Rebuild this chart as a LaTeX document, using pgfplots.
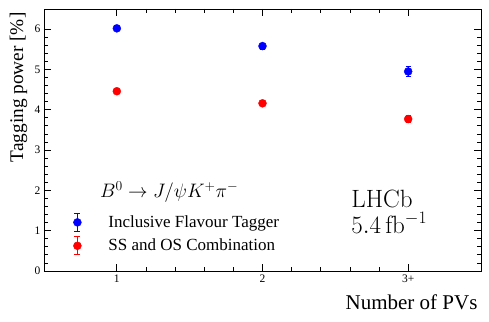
\RequirePackage{fix-cm}
\documentclass[border=0pt]{standalone}
\usepackage[no-math]{fontspec}
\setmainfont{Liberation Serif}
\usepackage{pgfplots}
\pgfplotsset{compat=1.18}

\begin{document}
\begin{tikzpicture}
  \begin{axis}[
      width=437pt, height=262pt, scale only axis,
      xmin=0.5, xmax=3.5, ymin=0, ymax=6.5,
      xtick={1,2,3}, xticklabels={1,2,3+},
      ytick={0,1,2,3,4,5,6},
      minor x tick num=4, minor y tick num=4,
      tick align=inside,
      major tick length=7pt, minor tick length=4pt,
      axis line style={line width=0.8pt},
      every tick/.style={black, line width=0.8pt},
      tick label style={font=\fontsize{11.5}{13}\selectfont},
      /pgf/number format/assume math mode=true,
      xlabel={Number of PVs},
      ylabel={Tagging power [\%]},
      xlabel style={font=\fontsize{21}{24}\selectfont,
        at={(axis description cs:1,-0.076)}, anchor=north east},
      ylabel style={font=\fontsize{19.3}{23}\selectfont,
        at={(axis description cs:-0.03,1)}, anchor=south east},
      legend style={draw=none, fill=none, at={(axis description cs:0.0595,0.231)},
        anchor=north west, font=\fontsize{17}{20}\selectfont,
        row sep=4pt, cells={anchor=west}},
    ]
    \addplot[only marks, color=blue, mark=*, mark size=4pt,
      legend image code/.code={
        \draw[blue, line width=1.4pt] (0pt,-9pt) -- (0pt,9pt)
          (-3pt,-9pt) -- (3pt,-9pt) (-3pt,9pt) -- (3pt,9pt);
        \fill[blue] (0pt,0pt) circle (4pt);
        \path[draw=none] (-4pt,0pt) -- (29pt,0pt);},
      error bars/.cd, y dir=both, y explicit,
      error bar style={line width=1.2pt},
      error mark options={rotate=90, mark size=2.5pt, line width=1.2pt}]
      coordinates {
        (1,6.02) +- (0,0.06)
        (2,5.58) +- (0,0.07)
        (3,4.95) +- (0,0.12)
      };
    \addlegendentry{Inclusive Flavour Tagger}
    \addplot[only marks, color=red, mark=*, mark size=4pt,
      legend image code/.code={
        \draw[red, line width=1.4pt] (0pt,-9pt) -- (0pt,9pt)
          (-3pt,-9pt) -- (3pt,-9pt) (-3pt,9pt) -- (3pt,9pt);
        \fill[red] (0pt,0pt) circle (4pt);
        \path[draw=none] (-4pt,0pt) -- (29pt,0pt);},
      error bars/.cd, y dir=both, y explicit,
      error bar style={line width=1.2pt},
      error mark options={rotate=90, mark size=2.5pt, line width=1.2pt}]
      coordinates {
        (1,4.46) +- (0,0.05)
        (2,4.16) +- (0,0.06)
        (3,3.77) +- (0,0.09)
      };
    \addlegendentry{SS and OS Combination}
    \node[anchor=base west, inner sep=0pt, font=\fontsize{19.5}{23}\selectfont]
      at (axis description cs:0.128,0.282) {$B^0 \to J/\psi K^+\pi^-$};
    \node[anchor=base west, inner sep=0pt, font=\fontsize{25}{28}\selectfont]
      at (axis description cs:0.703,0.242) {$\mathrm{LHCb}$};
    \node[anchor=base west, inner sep=0pt, font=\fontsize{25}{28}\selectfont]
      at (axis description cs:0.703,0.142) {$5.4\,\mathrm{fb}^{-1}$};
  \end{axis}
  \path ([xshift=-44pt,yshift=-50pt]current axis.south west)
    rectangle ([xshift=8pt,yshift=9pt]current axis.north east);
\end{tikzpicture}
\end{document}
